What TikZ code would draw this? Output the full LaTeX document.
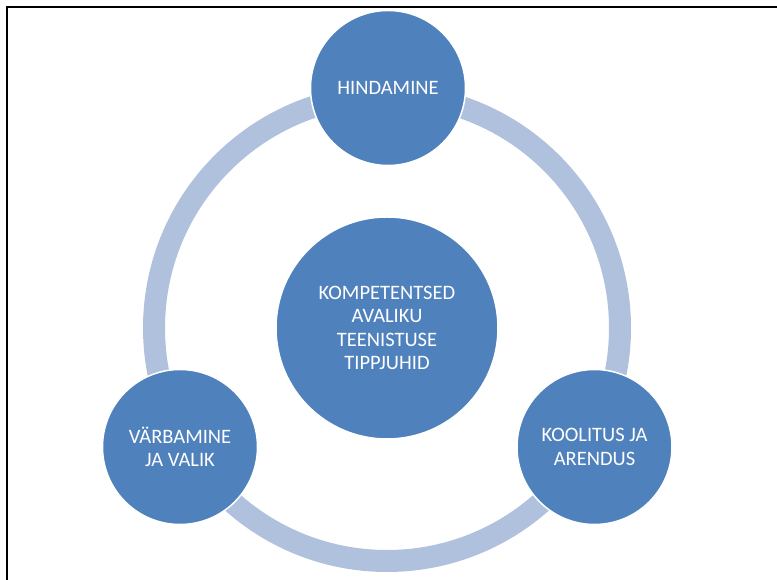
\documentclass[tikz,border=0pt]{standalone}
\usepackage{fontspec}
\setmainfont{Carlito}
\usepackage{tikz}
\usetikzlibrary{positioning,calc}
\definecolor{cycleblue}{RGB}{79,129,189}
\definecolor{ringblue}{RGB}{176,193,221}
\tikzstyle{phase}=[draw=white,line width=1.5pt,fill=cycleblue,circle,minimum size=155pt,inner sep=0pt,text=white,align=center,font=\fontsize{20.5}{23.5}\selectfont]
\tikzstyle{core}=[phase,minimum size=222pt]

\begin{document}
\begin{tikzpicture}[x=1pt,y=1pt]
\useasboundingbox (0,0) rectangle (777,580);
\draw[line width=2pt] (7,0) -- (7,573) -- (777,573);
\coordinate (mid) at (387,252);
\draw[ringblue,line width=22pt] (mid) circle (233pt);
\node [core] (goal) at (mid) {KOMPETENTSED\\AVALIKU\\TEENISTUSE\\TIPPJUHID};
\node [phase] (hind) at (388,492) {HINDAMINE};
\node [phase] (varb) at (180,133) {VÄRBAMINE\\JA VALIK};
\node [phase] (kool) at (594.5,133) {KOOLITUS JA\\ARENDUS};
\end{tikzpicture}
\end{document}
